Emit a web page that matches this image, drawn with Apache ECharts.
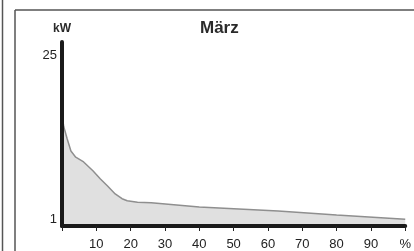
<!DOCTYPE html>
<html>
<head>
<meta charset="utf-8">
<script src="https://cdn.jsdelivr.net/npm/echarts@6/dist/echarts.min.js"></script>
<style>
  html, body { margin: 0; padding: 0; background: #fff; }
  #chart { width: 414px; height: 251px; }
</style>
</head>
<body>
<div id="chart"></div>
<script>
// share of time (%) vs. load (kW), sorted duration curve
const percent = [0, 0.5, 1.5, 2.6, 4, 6.3, 9, 11.2, 13.2, 15.5, 17.5, 19, 22, 26, 40, 63, 80, 100]
const loadKw = [16.5, 14.6, 12.8, 11.0, 10.1, 9.4, 8.1, 6.9, 5.9, 4.7, 4.0, 3.7, 3.5, 3.4, 2.8, 2.2, 1.6, 1.0]
const yTickLabels = [1, 25]
const title = 'März'

const chart = echarts.init(document.getElementById('chart'))
const font = '"Liberation Sans", Arial, sans-serif'

chart.setOption({
  animation: false,
  title: {
    text: title,
    left: 195,
    top: 15,
    textStyle: { fontFamily: font, fontSize: 17, fontWeight: 'bold', color: '#2a2a2a' }
  },
  grid: { left: 62, right: 4, top: 42, bottom: 24 },
  xAxis: {
    type: 'value',
    min: 0,
    max: 100,
    interval: 10,
    z: 5,
    splitLine: { show: false },
    axisLine: { lineStyle: { color: '#1a1a1a', width: 4 } },
    axisTick: { show: true, length: 5, lineStyle: { color: '#222', width: 1 } },
    axisLabel: {
      margin: 12,
      fontFamily: font,
      fontSize: 13,
      color: '#222',
      formatter: v => (v === 0 ? '' : v === 100 ? '%' : String(v))
    }
  },
  yAxis: {
    type: 'value',
    min: 0,
    max: 27,
    interval: 1,
    z: 5,
    name: 'kW',
    nameLocation: 'end',
    nameGap: 7,
    nameTextStyle: { fontFamily: font, fontSize: 12, fontWeight: 'bold', color: '#2a2a2a' },
    splitLine: { show: false },
    axisTick: { show: false },
    axisLine: { show: true, lineStyle: { color: '#1a1a1a', width: 4 } },
    axisLabel: {
      margin: 5,
      fontFamily: font,
      fontSize: 13,
      color: '#222',
      formatter: v => (yTickLabels.includes(v) ? String(v) : '')
    }
  },
  series: [
    {
      type: 'line',
      data: percent.map((p, i) => [p, loadKw[i]]),
      symbol: 'none',
      lineStyle: { color: '#8f8f8f', width: 1.5 },
      areaStyle: { color: '#e0e0e0', opacity: 1 },
      z: 1
    }
  ],
  graphic: [
    { type: 'line', shape: { x1: 2.5, y1: 0, x2: 2.5, y2: 251 }, style: { stroke: '#555', lineWidth: 1.5 } },
    { type: 'line', shape: { x1: 15, y1: 10, x2: 15, y2: 251 }, style: { stroke: '#555', lineWidth: 1.5 } },
    { type: 'line', shape: { x1: 15, y1: 10, x2: 414, y2: 10 }, style: { stroke: '#555', lineWidth: 1.5 } }
  ]
})
</script>
</body>
</html>
